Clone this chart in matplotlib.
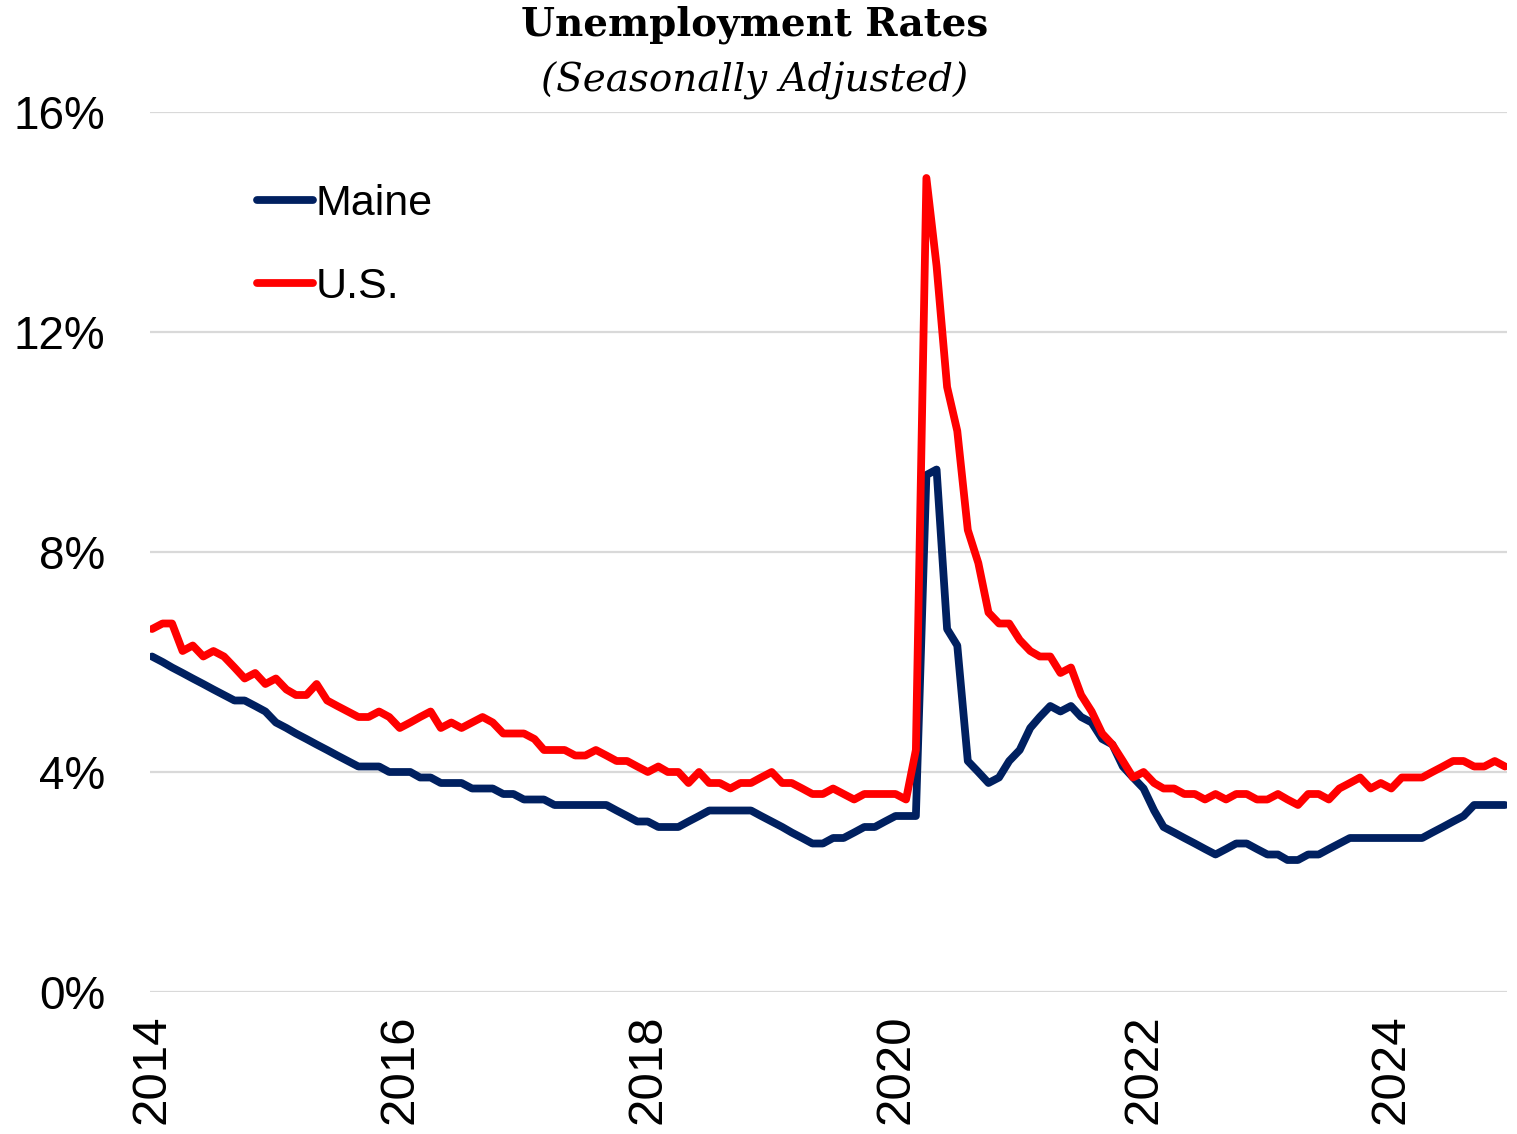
import numpy as np
import pandas as pd
import matplotlib
matplotlib.use("Agg")
import matplotlib.pyplot as plt

# monthly, Jan 2014 - Dec 2024
months = pd.date_range("2014-01-01", periods=132, freq="MS")

maine = [
    6.1, 6.0, 5.9, 5.8, 5.7, 5.6, 5.5, 5.4, 5.3, 5.3, 5.2, 5.1,
    4.9, 4.8, 4.7, 4.6, 4.5, 4.4, 4.3, 4.2, 4.1, 4.1, 4.1, 4.0,
    4.0, 4.0, 3.9, 3.9, 3.8, 3.8, 3.8, 3.7, 3.7, 3.7, 3.6, 3.6,
    3.5, 3.5, 3.5, 3.4, 3.4, 3.4, 3.4, 3.4, 3.4, 3.3, 3.2, 3.1,
    3.1, 3.0, 3.0, 3.0, 3.1, 3.2, 3.3, 3.3, 3.3, 3.3, 3.3, 3.2,
    3.1, 3.0, 2.9, 2.8, 2.7, 2.7, 2.8, 2.8, 2.9, 3.0, 3.0, 3.1,
    3.2, 3.2, 3.2, 9.4, 9.5, 6.6, 6.3, 4.2, 4.0, 3.8, 3.9, 4.2,
    4.4, 4.8, 5.0, 5.2, 5.1, 5.2, 5.0, 4.9, 4.6, 4.5, 4.1, 3.9,
    3.7, 3.3, 3.0, 2.9, 2.8, 2.7, 2.6, 2.5, 2.6, 2.7, 2.7, 2.6,
    2.5, 2.5, 2.4, 2.4, 2.5, 2.5, 2.6, 2.7, 2.8, 2.8, 2.8, 2.8,
    2.8, 2.8, 2.8, 2.8, 2.9, 3.0, 3.1, 3.2, 3.4, 3.4, 3.4, 3.4,
]

us = [
    6.6, 6.7, 6.7, 6.2, 6.3, 6.1, 6.2, 6.1, 5.9, 5.7, 5.8, 5.6,
    5.7, 5.5, 5.4, 5.4, 5.6, 5.3, 5.2, 5.1, 5.0, 5.0, 5.1, 5.0,
    4.8, 4.9, 5.0, 5.1, 4.8, 4.9, 4.8, 4.9, 5.0, 4.9, 4.7, 4.7,
    4.7, 4.6, 4.4, 4.4, 4.4, 4.3, 4.3, 4.4, 4.3, 4.2, 4.2, 4.1,
    4.0, 4.1, 4.0, 4.0, 3.8, 4.0, 3.8, 3.8, 3.7, 3.8, 3.8, 3.9,
    4.0, 3.8, 3.8, 3.7, 3.6, 3.6, 3.7, 3.6, 3.5, 3.6, 3.6, 3.6,
    3.6, 3.5, 4.4, 14.8, 13.2, 11.0, 10.2, 8.4, 7.8, 6.9, 6.7, 6.7,
    6.4, 6.2, 6.1, 6.1, 5.8, 5.9, 5.4, 5.1, 4.7, 4.5, 4.2, 3.9,
    4.0, 3.8, 3.7, 3.7, 3.6, 3.6, 3.5, 3.6, 3.5, 3.6, 3.6, 3.5,
    3.5, 3.6, 3.5, 3.4, 3.6, 3.6, 3.5, 3.7, 3.8, 3.9, 3.7, 3.8,
    3.7, 3.9, 3.9, 3.9, 4.0, 4.1, 4.2, 4.2, 4.1, 4.1, 4.2, 4.1,
]

tick_years = [2014, 2016, 2018, 2020, 2022, 2024]
y_ticks = [0, 4, 8, 12, 16]

plt.rcParams["font.family"] = ["Liberation Sans", "DejaVu Sans"]

W, H = 1517, 1134
fig = plt.figure(figsize=(W / 100, H / 100), dpi=100)
ax = fig.add_axes([150 / W, (H - 992) / H, 1357 / W, 880 / H])

ax.plot(months, maine, color="#002060", lw=5.6, solid_capstyle="round",
        solid_joinstyle="round", label="Maine", zorder=3)
ax.plot(months, us, color="#FF0000", lw=5.6, solid_capstyle="round",
        solid_joinstyle="round", label="U.S.", zorder=4)

ax.set_ylim(0, 16)
ax.set_yticks(y_ticks)
ax.set_yticklabels(["%d%%" % v for v in y_ticks])
ax.set_xlim(months[0] - pd.Timedelta(days=6), months[-1] + pd.Timedelta(days=6))
ax.set_xticks([pd.Timestamp("%d-01-01" % y) for y in tick_years])
ax.set_xticklabels([str(y) for y in tick_years], rotation=90, va="top")

ax.grid(True, axis="y", color="#D9D9D9", lw=1.6)
ax.set_axisbelow(True)
for s in ax.spines.values():
    s.set_visible(False)
ax.tick_params(axis="both", length=0)
ax.tick_params(axis="y", pad=32, labelsize=33)
ax.tick_params(axis="x", pad=16, labelsize=35.5)

leg = ax.legend(loc="upper left", bbox_to_anchor=(0.079, 0.918), frameon=False,
                fontsize=31, handlelength=1.3, handletextpad=0.05,
                labelspacing=1.0, borderpad=0, borderaxespad=0)

fig.text(0.4975, 0.978, "Unemployment Rates", ha="center", va="center",
         family="DejaVu Serif", fontweight="bold", fontsize=28)
fig.text(0.4975, 0.929, "(Seasonally Adjusted)", ha="center", va="center",
         family="DejaVu Serif", style="italic", fontsize=28)

fig.savefig("out.png", dpi=100)
